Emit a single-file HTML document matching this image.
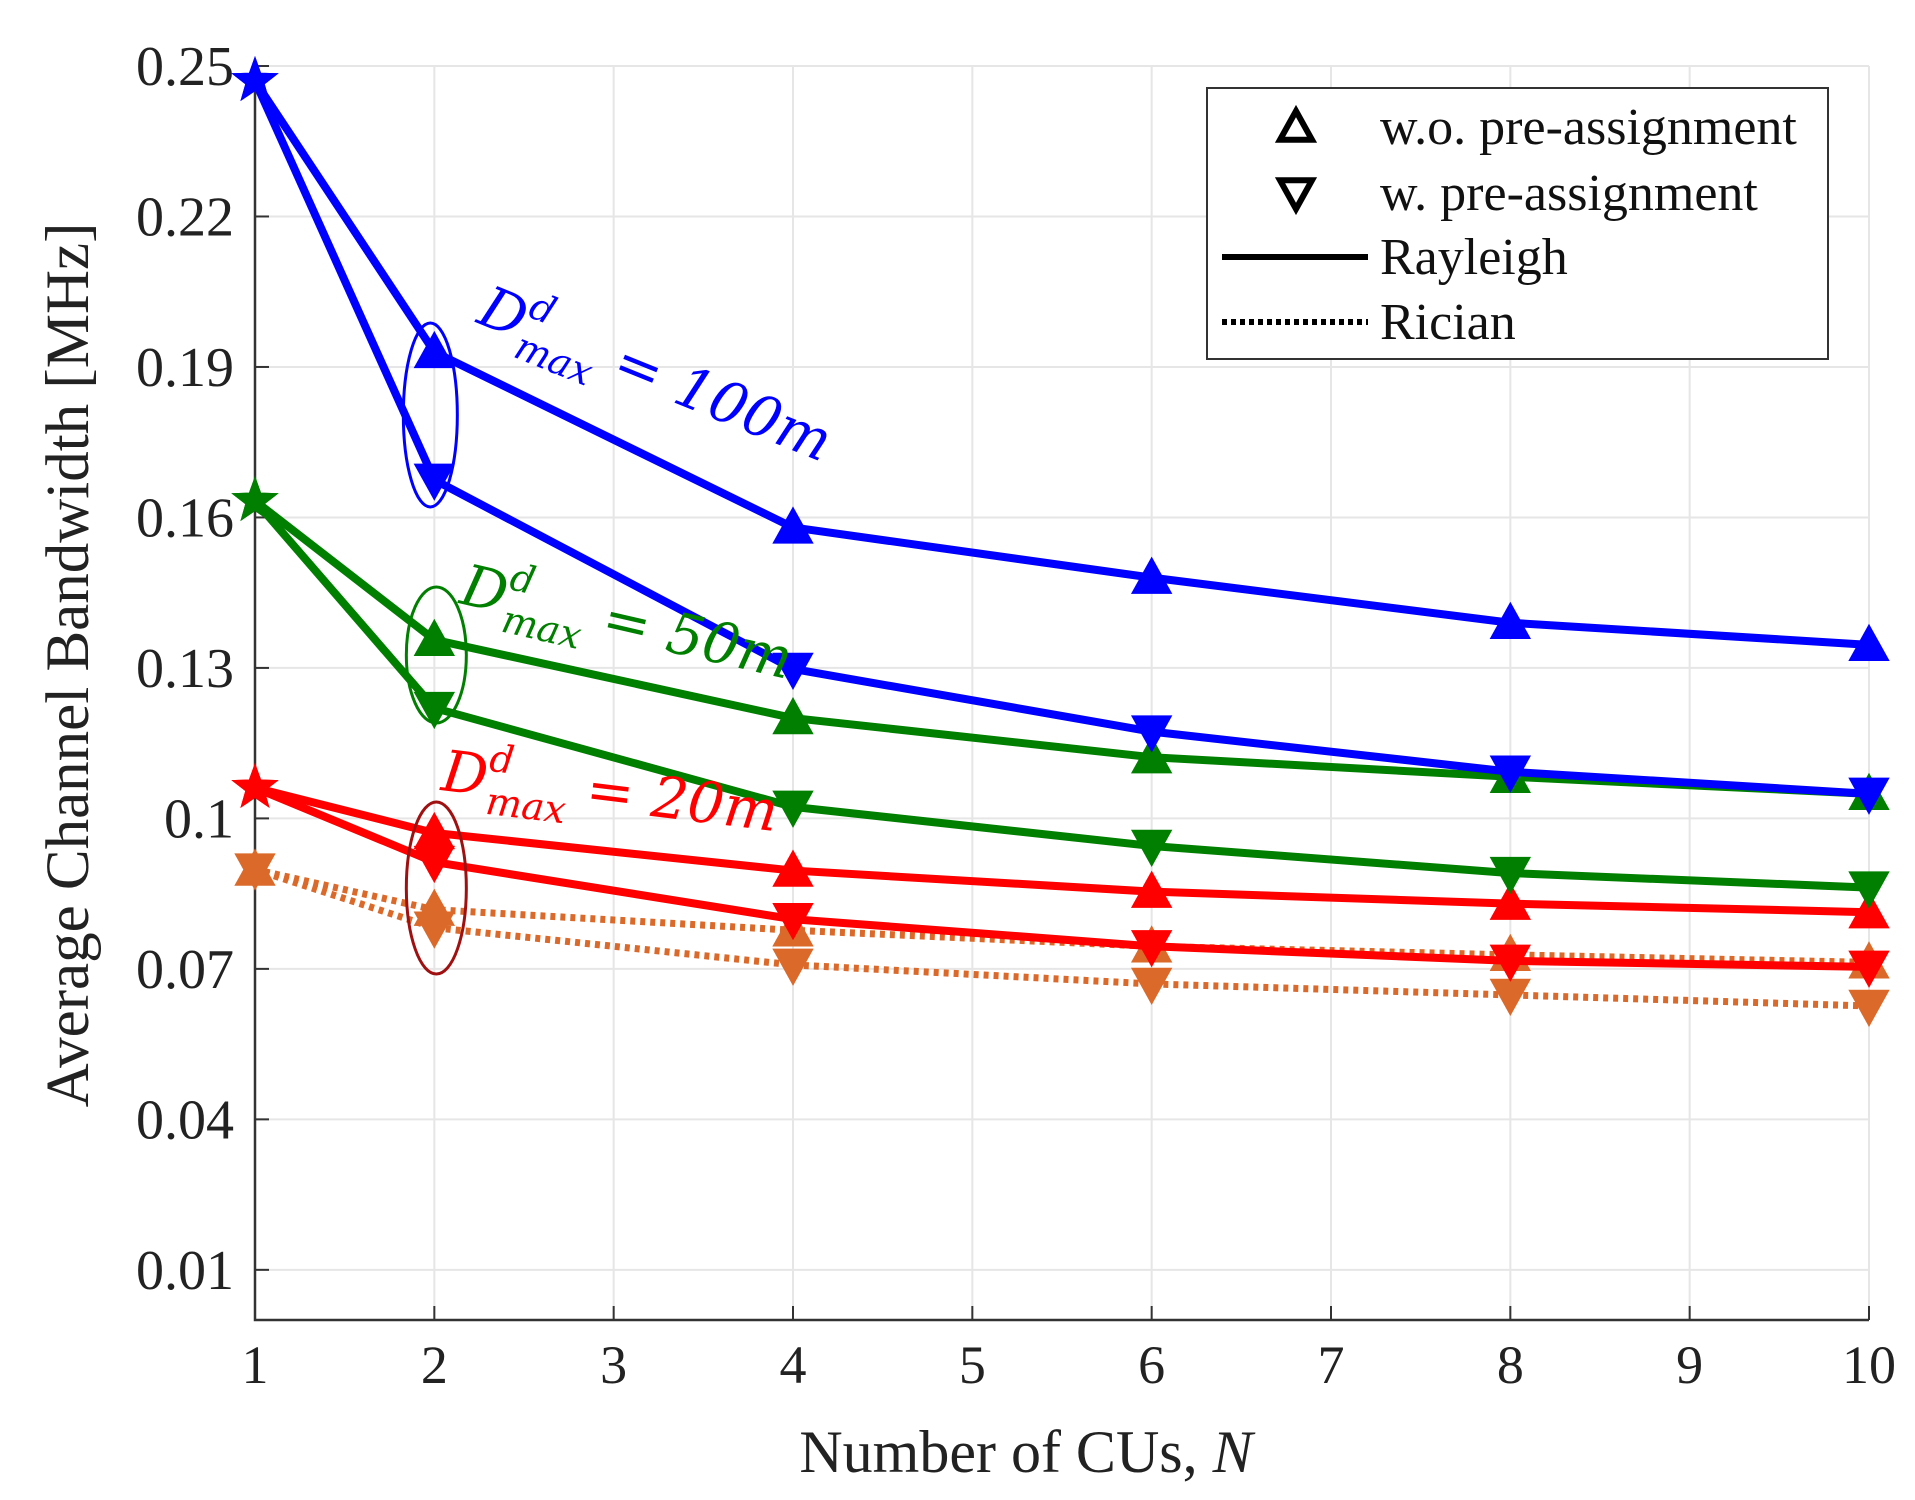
<!DOCTYPE html>
<html><head><meta charset="utf-8"><style>
html,body{margin:0;padding:0;background:#fff;}
svg{display:block;font-family:"Liberation Serif",serif;}
</style></head><body>
<svg id="chart" width="1915" height="1500" viewBox="0 0 1915 1500" xmlns="http://www.w3.org/2000/svg">
<rect width="1915" height="1500" fill="#fff"/>
<g id="grid"></g>
<g id="axes"></g>
<g id="series"></g>
<g id="annot"></g>
<g id="legend"></g>
</svg>
<script>
const xValues = [1, 2, 4, 6, 8, 10];
const xTicks = [1,2,3,4,5,6,7,8,9,10];
const yTicks = [0.01,0.04,0.07,0.1,0.13,0.16,0.19,0.22,0.25];
const yTickLabels = ["0.01","0.04","0.07","0.1","0.13","0.16","0.19","0.22","0.25"];
const blueWo = [0.247,0.193,0.158,0.148,0.139,0.1346];
const blueW = [0.247,0.1675,0.1298,0.1173,0.1093,0.1049];
const greenWo = [0.1633,0.1356,0.12,0.1122,0.1083,0.1049];
const greenW = [0.1633,0.122,0.1023,0.0945,0.0891,0.0862];
const redWo = [0.1061,0.0971,0.0896,0.0854,0.083,0.0813];
const redW = [0.1061,0.0913,0.0799,0.0745,0.0716,0.0704];
const ricWo = [0.0898,0.0818,0.0777,0.0745,0.0728,0.0713];
const ricW = [0.0898,0.0782,0.0708,0.067,0.0648,0.0626];

const NS="http://www.w3.org/2000/svg";
const L=255,R=1869,T=66,B=1320;
function xs(v){return L+(v-1)/9*(R-L);}
function ys(v){return B-(v/0.25)*(B-T);}
function mk(tag,attrs,parent){const e=document.createElementNS(NS,tag);for(const k in attrs)e.setAttribute(k,attrs[k]);parent.appendChild(e);return e;}
const grid=document.getElementById('grid'),axes=document.getElementById('axes'),ser=document.getElementById('series'),ann=document.getElementById('annot'),leg=document.getElementById('legend');

xTicks.forEach(t=>{
  const g=mk('line',{x1:xs(t),x2:xs(t),y1:T,y2:B,stroke:'#e6e6e6','stroke-width':2},grid);
  
  
  const tk=mk('line',{x1:xs(t),x2:xs(t),y1:B,y2:B-14,stroke:'#333','stroke-width':2},axes);
  
  
  const lb=mk('text',{x:xs(t),y:1383,'text-anchor':'middle','font-size':54,fill:'#222'},axes);
  lb.textContent=t;
  
  
});
yTicks.forEach((t,i)=>{
  const g=mk('line',{x1:L,x2:R,y1:ys(t),y2:ys(t),stroke:'#e6e6e6','stroke-width':2},grid);
  
  
  const tk=mk('line',{x1:L,x2:L+14,y1:ys(t),y2:ys(t),stroke:'#333','stroke-width':2},axes);
  
  
  const lb=mk('text',{x:234,y:ys(t)+19,'text-anchor':'end','font-size':56,fill:'#222'},axes);
  lb.textContent=yTickLabels[i];
  
  
});
const ax=mk('path',{d:`M${L},${T}V${B}H${R}`,fill:'none',stroke:'#333','stroke-width':2.5},axes);


const xt=mk('text',{x:1026,y:1472,'text-anchor':'middle','font-size':60,fill:'#222'},axes);
xt.innerHTML='Number of CUs, <tspan font-style="italic">N</tspan>';


const yt=mk('text',{x:0,y:0,'text-anchor':'middle','font-size':61,fill:'#222',transform:'translate(88,665) rotate(-90)'},axes);
yt.textContent='Average Channel Bandwidth [MHz]';



function tri(x,y,up,color,parent){
  const s=19;
  const d=up?`M${x},${y-s}L${x+s},${y+s*0.8}L${x-s},${y+s*0.8}Z`:`M${x},${y+s}L${x+s},${y-s*0.8}L${x-s},${y-s*0.8}Z`;
  return mk('path',{d:d,fill:color,stroke:color,'stroke-width':2},parent);
}
function star(x,y,color,parent){
  let d='';for(let i=0;i<10;i++){const r=i%2?9:22;const a=-Math.PI/2+i*Math.PI/5;d+=(i?'L':'M')+(x+r*Math.cos(a)).toFixed(1)+','+(y+r*Math.sin(a)).toFixed(1);}
  return mk('path',{d:d+'Z',fill:color,stroke:color,'stroke-width':2},parent);
}
function drawSeries(vals,color,up,dotted,name,starFirst){
  const g=mk('g',{},ser);
  
  
  const pts=vals.map((v,i)=>xs(xValues[i])+','+ys(v)).join(' ');
  const attrs={points:pts,fill:'none',stroke:color,'stroke-width':dotted?7:8,'stroke-linejoin':'round'};
  if(dotted)attrs['stroke-dasharray']='5 5';
  const pl=mk('polyline',attrs,g);
  
  
  vals.forEach((v,i)=>{
    const m=(i===0&&starFirst)?star(xs(xValues[i]),ys(v),color,g):tri(xs(xValues[i]),ys(v),up,color,g);
    
    
  });
}
const OR='#db6a2a';
drawSeries(ricW,OR,false,true,'rician-w-preassign',false);
drawSeries(ricWo,OR,true,true,'rician-wo-preassign',false);
drawSeries(redW,'#ff0000',false,false,'red-w-preassign',true);
drawSeries(redWo,'#ff0000',true,false,'red-wo-preassign',true);
drawSeries(greenW,'#007f00',false,false,'green-w-preassign',true);
drawSeries(greenWo,'#007f00',true,false,'green-wo-preassign',true);
drawSeries(blueW,'#0000ff',false,false,'blue-w-preassign',true);
drawSeries(blueWo,'#0000ff',true,false,'blue-wo-preassign',true);

function ell(cx,cy,rx,ry,color,name){
  const e=mk('ellipse',{cx:cx,cy:cy,rx:rx,ry:ry,fill:'none',stroke:color,'stroke-width':3},ann);
  
  
}
ell(xs(2)-4,415,27,92,'#0000ff','ellipse-100m');
ell(xs(2)+2,655,30,68,'#007f00','ellipse-50m');
ell(xs(2)+2,888,30,86,'#a01010','ellipse-20m');
function label(x,y,rot,color,val,name){
  const t=mk('text',{x:0,y:0,'font-size':57,fill:color,'font-style':'italic',transform:`translate(${x},${y}) rotate(${rot})`,'font-family':'"DejaVu Serif",serif'},ann);
  t.innerHTML=`D<tspan font-size="38" dy="-25">d</tspan><tspan font-size="38" dx="-23" dy="43">max</tspan><tspan dy="-18"> = ${val}m</tspan>`;
  
  
}
label(475,322,22,'#0000ff','100','label-100m');
label(458,603,13,'#007f00','50','label-50m');
label(440,790,7,'#ff0000','20','label-20m');

const lb=mk('rect',{x:1207,y:88,width:621,height:271,fill:'#fff',stroke:'#333','stroke-width':2},leg);


const entries=[['w.o. pre-assignment','up'],['w. pre-assignment','down'],['Rayleigh','solid'],['Rician','dot']];
entries.forEach((e,i)=>{
  const y=[127,193,257,322][i];
  const g=mk('g',{},leg);
  
  
  if(e[1]==='up'||e[1]==='down'){
    const s=16,x=1296;
    const d=e[1]==='up'?`M${x},${y-s}L${x+s},${y+s*0.8}L${x-s},${y+s*0.8}Z`:`M${x},${y+s}L${x+s},${y-s*0.8}L${x-s},${y-s*0.8}Z`;
    mk('path',{d:d,fill:'none',stroke:'#000','stroke-width':6,'stroke-linejoin':'miter'},g);
  }else{
    const a={x1:1222,x2:1368,y1:y,y2:y,stroke:'#000','stroke-width':6};
    if(e[1]==='dot')a['stroke-dasharray']='5 4';
    mk('line',a,g);
  }
  const t=mk('text',{x:1380,y:y+17,'font-size':52,fill:'#111'},g);
  t.textContent=e[0];
});
</script>
</body></html>
